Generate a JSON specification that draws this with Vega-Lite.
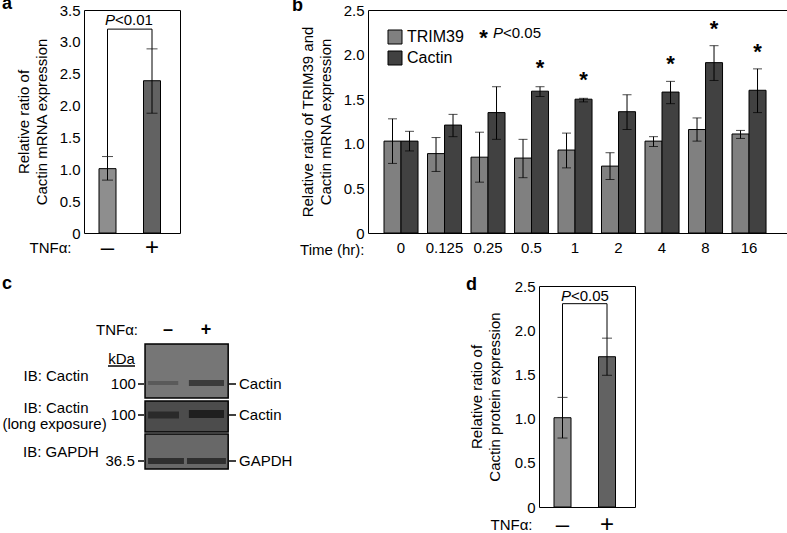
{
 "$schema": "https://vega.github.io/schema/vega-lite/v6.json",
 "padding": {"left": 1, "top": -6, "right": 0, "bottom": 0},
 "background": "white",
 "config": {
  "font": "Liberation Sans",
  "view": {"stroke": "black", "strokeWidth": 1},
  "axis": {"grid": false, "ticks": false, "tickSize": 0, "domain": false, "labelColor": "black", "titleColor": "black", "labelFontSize": 15, "titleFontSize": 15, "titleFontWeight": "normal", "zindex": 1},
  "title": {"fontSize": 18, "fontWeight": "bold", "anchor": "start", "frame": "group", "offset": 0, "baseline": "alphabetic", "color": "black"},
  "text": {"color": "black"}
 },
 "spacing": 15,
 "resolve": {"scale": {"color": "independent", "opacity": "independent"}, "legend": {"color": "independent"}},
 "datasets": {
  "aBars": [{"trt": "–", "mean": 1.01, "lo": 0.83, "hi": 1.20}, {"trt": "+", "mean": 2.39, "lo": 1.88, "hi": 2.89}],
  "aLegs": [{"trt": "–", "y": 1.20, "y2": 3.20}, {"trt": "+", "y": 2.89, "y2": 3.20}],
  "aBracket": [{"from": "–", "to": "+", "y": 3.20}],
  "aP": [{"trt": "–", "y": 3.265}],
  "dBars": [{"trt": "–", "mean": 1.01, "lo": 0.78, "hi": 1.24}, {"trt": "+", "mean": 1.70, "lo": 1.49, "hi": 1.91}],
  "dLegs": [{"trt": "–", "y": 1.24, "y2": 2.30}, {"trt": "+", "y": 1.91, "y2": 2.30}],
  "dBracket": [{"from": "–", "to": "+", "y": 2.30}],
  "dP": [{"trt": "–", "y": 2.334}],
  "bVals": [
   {"time": "0", "gene": "TRIM39", "mean": 1.03, "lo": 0.78, "hi": 1.28},
   {"time": "0", "gene": "Cactin", "mean": 1.03, "lo": 0.92, "hi": 1.14},
   {"time": "0.125", "gene": "TRIM39", "mean": 0.89, "lo": 0.69, "hi": 1.07},
   {"time": "0.125", "gene": "Cactin", "mean": 1.21, "lo": 1.08, "hi": 1.33},
   {"time": "0.25", "gene": "TRIM39", "mean": 0.85, "lo": 0.57, "hi": 1.13},
   {"time": "0.25", "gene": "Cactin", "mean": 1.35, "lo": 1.05, "hi": 1.64},
   {"time": "0.5", "gene": "TRIM39", "mean": 0.84, "lo": 0.62, "hi": 1.05},
   {"time": "0.5", "gene": "Cactin", "mean": 1.59, "lo": 1.53, "hi": 1.64},
   {"time": "1", "gene": "TRIM39", "mean": 0.93, "lo": 0.73, "hi": 1.12},
   {"time": "1", "gene": "Cactin", "mean": 1.50, "lo": 1.47, "hi": 1.51},
   {"time": "2", "gene": "TRIM39", "mean": 0.75, "lo": 0.60, "hi": 0.90},
   {"time": "2", "gene": "Cactin", "mean": 1.36, "lo": 1.16, "hi": 1.55},
   {"time": "4", "gene": "TRIM39", "mean": 1.03, "lo": 0.97, "hi": 1.08},
   {"time": "4", "gene": "Cactin", "mean": 1.58, "lo": 1.45, "hi": 1.70},
   {"time": "8", "gene": "TRIM39", "mean": 1.16, "lo": 1.03, "hi": 1.29},
   {"time": "8", "gene": "Cactin", "mean": 1.91, "lo": 1.71, "hi": 2.10},
   {"time": "16", "gene": "TRIM39", "mean": 1.11, "lo": 1.06, "hi": 1.15},
   {"time": "16", "gene": "Cactin", "mean": 1.60, "lo": 1.35, "hi": 1.84}
  ],
  "bStars": [
   {"time": "0.5", "gene": "Cactin", "y": 1.906},
   {"time": "1", "gene": "Cactin", "y": 1.775},
   {"time": "4", "gene": "Cactin", "y": 1.954},
   {"time": "8", "gene": "Cactin", "y": 2.354},
   {"time": "16", "gene": "Cactin", "y": 2.093}
  ],
  "bNote": [{"time": "0.25", "ystar": 2.248, "y": 2.186}],
  "cStrips": [
   {"strip": "1", "x": 0.4, "x2": 2.58, "y": 5.8, "y2": 11.2},
   {"strip": "2", "x": 0.4, "x2": 2.58, "y": 11.5, "y2": 14.6},
   {"strip": "3", "x": 0.4, "x2": 2.58, "y": 14.8, "y2": 18.3}
  ],
  "cBands": [
   {"x": 0.48, "x2": 1.27, "y": 9.5, "y2": 9.9, "intensity": 0.3},
   {"x": 1.55, "x2": 2.47, "y": 9.4, "y2": 10.0, "intensity": 0.65},
   {"x": 0.48, "x2": 1.29, "y": 12.55, "y2": 13.25, "intensity": 0.7},
   {"x": 1.55, "x2": 2.47, "y": 12.4, "y2": 13.2, "intensity": 0.95},
   {"x": 0.48, "x2": 1.42, "y": 17.2, "y2": 17.8, "intensity": 0.75},
   {"x": 1.50, "x2": 2.52, "y": 17.2, "y2": 17.8, "intensity": 0.75}
  ],
  "cTicks": [
   {"x": 0.216, "x2": 0.373, "y": 9.8}, {"x": 0.216, "x2": 0.373, "y": 12.9}, {"x": 0.216, "x2": 0.373, "y": 17.5},
   {"x": 2.602, "x2": 2.785, "y": 9.8}, {"x": 2.602, "x2": 2.785, "y": 12.9}, {"x": 2.602, "x2": 2.785, "y": 17.5},
   {"x": -0.571, "x2": 0.137, "y": 8.0}
  ],
  "cText": [
   {"kind": "row", "label": "IB: Cactin", "x": -1.934, "y": 9.0},
   {"kind": "row", "label": "IB: Cactin", "x": -1.934, "y": 12.2},
   {"kind": "row", "label": "(long exposure)", "x": -1.973, "y": 13.8},
   {"kind": "row", "label": "IB: GAPDH", "x": -1.803, "y": 16.6},
   {"kind": "row", "label": "kDa", "x": -0.217, "y": 7.3},
   {"kind": "mw", "label": "100", "x": 0.16, "y": 9.8},
   {"kind": "mw", "label": "100", "x": 0.16, "y": 12.9},
   {"kind": "mw", "label": "36.5", "x": 0.13, "y": 17.5},
   {"kind": "band", "label": "Cactin", "x": 2.864, "y": 9.8},
   {"kind": "band", "label": "Cactin", "x": 2.864, "y": 12.9},
   {"kind": "band", "label": "GAPDH", "x": 2.864, "y": 17.5},
   {"kind": "head", "label": "TNFα:", "x": 0.216, "y": 4.4},
   {"kind": "lane", "label": "–", "x": 1, "y": 4.4},
   {"kind": "lane", "label": "+", "x": 2, "y": 4.4}
  ]
 },
 "vconcat": [
  {
   "resolve": {"scale": {"color": "independent"}, "legend": {"color": "independent"}},
   "hconcat": [
    {
     "width": 96, "height": 223,
     "title": {"text": "a", "dx": -82, "dy": 13.5},
     "layer": [
      {"data": {"name": "aBars"},
       "mark": {"type": "bar", "stroke": "black", "strokeWidth": 1},
       "encoding": {
        "x": {"field": "trt", "type": "nominal", "sort": null,
              "scale": {"domain": ["–", "+"], "paddingInner": 0.618, "paddingOuter": 0.3876, "align": 0.435},
              "axis": {"title": "TNFα:", "labelAngle": 0, "labelFontSize": 24, "labelPadding": 14, "labelBaseline": "middle",
                       "titleX": -13, "titleY": 14, "titleAlign": "right", "titleBaseline": "middle", "titleAngle": 0}},
        "y": {"field": "mean", "type": "quantitative", "scale": {"domain": [0, 3.5], "nice": false},
              "axis": {"title": ["Relative ratio of", "Cactin mRNA expression"], "values": [0, 0.5, 1, 1.5, 2, 2.5, 3, 3.5], "tickCount": 20, "labelOverlap": false,
                       "labelExpr": "datum.value === 0 ? '0' : format(datum.value, '.1f')", "labelPadding": 4, "titlePadding": 10, "titleLineHeight": 18}},
        "color": {"field": "trt", "type": "nominal", "scale": {"domain": ["–", "+"], "range": ["#8e8e8e", "#626262"]}, "legend": null}
       }},
      {"data": {"name": "aBars"}, "mark": {"type": "rule", "color": "black", "strokeWidth": 1},
       "encoding": {"x": {"field": "trt", "type": "nominal", "sort": null}, "y": {"field": "lo", "type": "quantitative"}, "y2": {"field": "hi"}}},
      {"data": {"name": "aBars"}, "mark": {"type": "tick", "color": "black", "thickness": 1, "size": 11, "orient": "horizontal"},
       "encoding": {"x": {"field": "trt", "type": "nominal", "sort": null}, "y": {"field": "hi", "type": "quantitative"}}},
      {"data": {"name": "aBars"}, "mark": {"type": "tick", "color": "black", "thickness": 1, "size": 11, "orient": "horizontal"},
       "encoding": {"x": {"field": "trt", "type": "nominal", "sort": null}, "y": {"field": "lo", "type": "quantitative"}}},
      {"data": {"name": "aLegs"}, "mark": {"type": "rule", "color": "black", "strokeWidth": 1},
       "encoding": {"x": {"field": "trt", "type": "nominal", "sort": null}, "y": {"field": "y", "type": "quantitative"}, "y2": {"field": "y2"}}},
      {"data": {"name": "aBracket"}, "mark": {"type": "rule", "color": "black", "strokeWidth": 1},
       "encoding": {"x": {"field": "from", "type": "nominal", "sort": null}, "x2": {"field": "to"}, "y": {"field": "y", "type": "quantitative"}}},
      {"data": {"name": "aP"}, "mark": {"type": "text", "text": "P", "fontStyle": "italic", "fontSize": 15, "align": "left", "baseline": "alphabetic", "dx": -2.5},
       "encoding": {"x": {"field": "trt", "type": "nominal", "sort": null}, "y": {"field": "y", "type": "quantitative"}}},
      {"data": {"name": "aP"}, "mark": {"type": "text", "text": "<0.01", "fontSize": 15, "align": "left", "baseline": "alphabetic", "dx": 7.5},
       "encoding": {"x": {"field": "trt", "type": "nominal", "sort": null}, "y": {"field": "y", "type": "quantitative"}}}
     ]
    },
    {
     "width": 419, "height": 223,
     "title": {"text": "b", "dx": -76, "dy": 15.5},
     "layer": [
      {"data": {"name": "bVals"},
       "mark": {"type": "bar", "stroke": "black", "strokeWidth": 1},
       "encoding": {
        "x": {"field": "time", "type": "nominal", "sort": null,
              "scale": {"domain": ["0", "0.125", "0.25", "0.5", "1", "2", "4", "8", "16"], "paddingInner": 0.218, "paddingOuter": 0.425, "align": 0.433},
              "axis": {"title": "Time (hr):", "labelAngle": 0, "labelFontSize": 15, "labelPadding": 14, "labelBaseline": "middle",
                       "titleX": -4, "titleY": 16.5, "titleAlign": "right", "titleBaseline": "middle", "titleAngle": 0}},
        "xOffset": {"field": "gene", "type": "nominal", "scale": {"domain": ["TRIM39", "Cactin"], "paddingInner": 0, "paddingOuter": 0}},
        "y": {"field": "mean", "type": "quantitative", "scale": {"domain": [0, 2.5], "nice": false},
              "axis": {"title": ["Relative ratio of TRIM39 and", "Cactin mRNA expression"], "values": [0, 0.5, 1, 1.5, 2, 2.5], "tickCount": 20, "labelOverlap": false,
                       "labelExpr": "datum.value === 0 ? '0' : format(datum.value, '.1f')", "labelPadding": 4, "titlePadding": 10, "titleLineHeight": 18}},
        "color": {"field": "gene", "type": "nominal", "scale": {"domain": ["TRIM39", "Cactin"], "range": ["#808080", "#414141"]},
                  "legend": {"orient": "top-left", "offset": 19, "title": null, "symbolType": "square", "symbolSize": 196, "symbolStrokeColor": "black", "symbolStrokeWidth": 1, "labelFontSize": 16, "labelOffset": 4, "rowPadding": 3, "padding": 0, "labelColor": "black"}}
       }},
      {"data": {"name": "bVals"}, "mark": {"type": "rule", "color": "black", "strokeWidth": 1},
       "encoding": {"x": {"field": "time", "type": "nominal", "sort": null}, "xOffset": {"field": "gene", "type": "nominal"}, "y": {"field": "lo", "type": "quantitative"}, "y2": {"field": "hi"}}},
      {"data": {"name": "bVals"}, "mark": {"type": "tick", "color": "black", "thickness": 1, "size": 9, "orient": "horizontal"},
       "encoding": {"x": {"field": "time", "type": "nominal", "sort": null}, "xOffset": {"field": "gene", "type": "nominal"}, "y": {"field": "hi", "type": "quantitative"}}},
      {"data": {"name": "bVals"}, "mark": {"type": "tick", "color": "black", "thickness": 1, "size": 9, "orient": "horizontal"},
       "encoding": {"x": {"field": "time", "type": "nominal", "sort": null}, "xOffset": {"field": "gene", "type": "nominal"}, "y": {"field": "lo", "type": "quantitative"}}},
      {"data": {"name": "bStars"}, "mark": {"type": "text", "text": "*", "fontSize": 22, "fontWeight": "bold", "baseline": "alphabetic", "dy": 12.5},
       "encoding": {"x": {"field": "time", "type": "nominal", "sort": null}, "xOffset": {"field": "gene", "type": "nominal"}, "y": {"field": "y", "type": "quantitative"}}},
      {"data": {"name": "bNote"}, "mark": {"type": "text", "text": "*", "fontSize": 22, "fontWeight": "bold", "baseline": "alphabetic", "dy": 12.5, "dx": -4.5},
       "encoding": {"x": {"field": "time", "type": "nominal", "sort": null}, "y": {"field": "ystar", "type": "quantitative"}}},
      {"data": {"name": "bNote"}, "mark": {"type": "text", "text": "P", "fontStyle": "italic", "fontSize": 15, "align": "left", "baseline": "alphabetic", "dx": 5},
       "encoding": {"x": {"field": "time", "type": "nominal", "sort": null}, "y": {"field": "y", "type": "quantitative"}}},
      {"data": {"name": "bNote"}, "mark": {"type": "text", "text": "<0.05", "fontSize": 15, "align": "left", "baseline": "alphabetic", "dx": 15},
       "encoding": {"x": {"field": "time", "type": "nominal", "sort": null}, "y": {"field": "y", "type": "quantitative"}}}
     ]
    }
   ],
   "bounds": "flush",
   "spacing": 188
  },
  {
   "resolve": {"scale": {"color": "independent", "opacity": "independent"}, "legend": {"color": "independent"}},
   "hconcat": [
    {
     "width": 267, "height": 200,
     "view": {"stroke": null},
     "title": {"text": "c", "dx": -82, "dy": 11},
     "layer": [
      {"data": {"name": "cStrips"}, "mark": {"type": "rect", "stroke": "black", "strokeWidth": 1.5},
       "encoding": {
        "x": {"field": "x", "type": "quantitative", "scale": {"domain": [-1.2, 5.8], "nice": false, "zero": false}, "axis": null},
        "x2": {"field": "x2"},
        "y": {"field": "y", "type": "quantitative", "scale": {"domain": [0, 20], "reverse": true, "nice": false, "zero": false}, "axis": null},
        "y2": {"field": "y2"},
        "color": {"field": "strip", "type": "nominal", "scale": {"domain": ["1", "2", "3"], "range": ["#767676", "#4c4c4c", "#686868"]}, "legend": null}
       }},
      {"data": {"name": "cBands"}, "mark": {"type": "rect", "color": "#1c1c1c"},
       "encoding": {
        "x": {"field": "x", "type": "quantitative"}, "x2": {"field": "x2"},
        "y": {"field": "y", "type": "quantitative"}, "y2": {"field": "y2"},
        "opacity": {"field": "intensity", "type": "quantitative", "scale": {"domain": [0, 1], "range": [0, 1]}, "legend": null}
       }},
      {"data": {"name": "cTicks"}, "mark": {"type": "rule", "color": "black", "strokeWidth": 1.5},
       "encoding": {"x": {"field": "x", "type": "quantitative"}, "x2": {"field": "x2"}, "y": {"field": "y", "type": "quantitative"}}},
      {"data": {"name": "cText"}, "transform": [{"filter": "datum.kind === 'row'"}],
       "mark": {"type": "text", "fontSize": 15, "align": "center", "baseline": "middle"},
       "encoding": {"x": {"field": "x", "type": "quantitative"}, "y": {"field": "y", "type": "quantitative"}, "text": {"field": "label"}}},
      {"data": {"name": "cText"}, "transform": [{"filter": "datum.kind === 'mw' || datum.kind === 'head'"}],
       "mark": {"type": "text", "fontSize": 15, "align": "right", "baseline": "middle"},
       "encoding": {"x": {"field": "x", "type": "quantitative"}, "y": {"field": "y", "type": "quantitative"}, "text": {"field": "label"}}},
      {"data": {"name": "cText"}, "transform": [{"filter": "datum.kind === 'band'"}],
       "mark": {"type": "text", "fontSize": 15, "align": "left", "baseline": "middle"},
       "encoding": {"x": {"field": "x", "type": "quantitative"}, "y": {"field": "y", "type": "quantitative"}, "text": {"field": "label"}}},
      {"data": {"name": "cText"}, "transform": [{"filter": "datum.kind === 'lane'"}],
       "mark": {"type": "text", "fontSize": 18, "fontWeight": "bold", "align": "center", "baseline": "middle"},
       "encoding": {"x": {"field": "x", "type": "quantitative"}, "y": {"field": "y", "type": "quantitative"}, "text": {"field": "label"}}}
     ]
    },
    {
     "width": 96, "height": 221,
     "title": {"text": "d", "dx": -73, "dy": 18.5},
     "layer": [
      {"data": {"name": "dBars"},
       "mark": {"type": "bar", "stroke": "black", "strokeWidth": 1},
       "encoding": {
        "x": {"field": "trt", "type": "nominal", "sort": null,
              "scale": {"domain": ["–", "+"], "paddingInner": 0.618, "paddingOuter": 0.3876, "align": 0.435},
              "axis": {"title": "TNFα:", "labelAngle": 0, "labelFontSize": 24, "labelPadding": 17, "labelBaseline": "middle",
                       "titleX": -7, "titleY": 17, "titleAlign": "right", "titleBaseline": "middle", "titleAngle": 0}},
        "y": {"field": "mean", "type": "quantitative", "scale": {"domain": [0, 2.5], "nice": false},
              "axis": {"title": ["Relative ratio of", "Cactin protein expression"], "values": [0, 0.5, 1, 1.5, 2, 2.5], "tickCount": 20, "labelOverlap": false,
                       "labelExpr": "datum.value === 0 ? '0' : format(datum.value, '.1f')", "labelPadding": 4, "titlePadding": 12, "titleLineHeight": 18}},
        "color": {"field": "trt", "type": "nominal", "scale": {"domain": ["–", "+"], "range": ["#8e8e8e", "#626262"]}, "legend": null}
       }},
      {"data": {"name": "dBars"}, "mark": {"type": "rule", "color": "black", "strokeWidth": 1},
       "encoding": {"x": {"field": "trt", "type": "nominal", "sort": null}, "y": {"field": "lo", "type": "quantitative"}, "y2": {"field": "hi"}}},
      {"data": {"name": "dBars"}, "mark": {"type": "tick", "color": "black", "thickness": 1, "size": 10, "orient": "horizontal"},
       "encoding": {"x": {"field": "trt", "type": "nominal", "sort": null}, "y": {"field": "hi", "type": "quantitative"}}},
      {"data": {"name": "dBars"}, "mark": {"type": "tick", "color": "black", "thickness": 1, "size": 10, "orient": "horizontal"},
       "encoding": {"x": {"field": "trt", "type": "nominal", "sort": null}, "y": {"field": "lo", "type": "quantitative"}}},
      {"data": {"name": "dLegs"}, "mark": {"type": "rule", "color": "black", "strokeWidth": 1},
       "encoding": {"x": {"field": "trt", "type": "nominal", "sort": null}, "y": {"field": "y", "type": "quantitative"}, "y2": {"field": "y2"}}},
      {"data": {"name": "dBracket"}, "mark": {"type": "rule", "color": "black", "strokeWidth": 1},
       "encoding": {"x": {"field": "from", "type": "nominal", "sort": null}, "x2": {"field": "to"}, "y": {"field": "y", "type": "quantitative"}}},
      {"data": {"name": "dP"}, "mark": {"type": "text", "text": "P", "fontStyle": "italic", "fontSize": 15, "align": "left", "baseline": "alphabetic", "dx": -1.5},
       "encoding": {"x": {"field": "trt", "type": "nominal", "sort": null}, "y": {"field": "y", "type": "quantitative"}}},
      {"data": {"name": "dP"}, "mark": {"type": "text", "text": "<0.05", "fontSize": 15, "align": "left", "baseline": "alphabetic", "dx": 8.5},
       "encoding": {"x": {"field": "trt", "type": "nominal", "sort": null}, "y": {"field": "y", "type": "quantitative"}}}
     ]
    }
   ],
   "bounds": "flush",
   "spacing": 188
  }
 ]
}
